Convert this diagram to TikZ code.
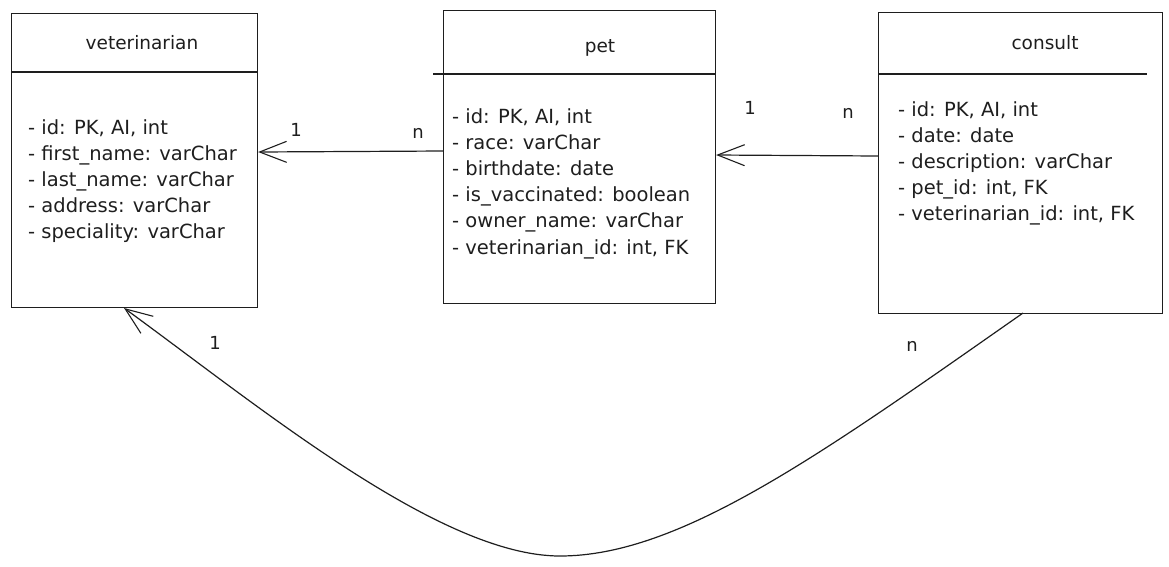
\documentclass[tikz,border=0pt]{standalone}
\usepackage{fontspec}
\setmainfont{DejaVu Sans}
\usetikzlibrary{arrows.meta}
\definecolor{ink}{HTML}{1E1E1E}
\tikzset{
  box/.style={draw=ink, line width=1.1pt, inner sep=0pt, anchor=north west},
  hdr/.style={draw=ink, line width=1.1pt},
  title/.style={font=\fontsize{18.5}{22}\selectfont, text=ink, anchor=center, inner sep=0pt},
  attr/.style={font=\fontsize{19.5}{22}\selectfont, text=ink, anchor=base west, inner sep=0pt},
  card/.style={font=\fontsize{18}{20}\selectfont, text=ink, anchor=center, inner sep=0pt},
  rel/.style={draw=ink, line width=1.2pt, -{Straight Barb[length=27pt,width=21pt,line width=1.1pt]}},
}
\begin{document}
\begin{tikzpicture}[x=1pt,y=-1pt]
\useasboundingbox (0,0) rectangle (1169,566);
% boxes
\node[box, minimum width=246pt, minimum height=294pt] (vet) at (11,13) {};
\node[box, minimum width=272pt, minimum height=293pt] (pet) at (443,10) {};
\node[box, minimum width=284pt, minimum height=301pt] (con) at (878,12) {};
% header separators
\draw[hdr] (11,72) -- (257,72);
\draw[hdr] (433,74) -- (715,74);
\draw[hdr] (878,74) -- (1147,74);
% titles
\node[title] (vett) at (142,43) {veterinarian};
\node[title] (pett) at (600,48) {pet};
\node[title] (cont) at (1045,43) {consult};
% attributes
\foreach \t [count=\i from 0] in {{- id: PK, AI, int},{- first\_name: varChar},{- last\_name: varChar},{- address: varChar},{- speciality: varChar}}
  \node[attr] (va\i) at (28,134+26.2*\i) {\t};
\foreach \t [count=\i from 0] in {{- id: PK, AI, int},{- race: varChar},{- birthdate: date},{- is\_vaccinated: boolean},{- owner\_name: varChar},{- veterinarian\_id: int, FK}}
  \node[attr] (pa\i) at (452,123+26.2*\i) {\t};
\foreach \t [count=\i from 0] in {{- id: PK, AI, int},{- date: date},{- description: varChar},{- pet\_id: int, FK},{- veterinarian\_id: int, FK}}
  \node[attr] (ca\i) at (898,116+26.2*\i) {\t};
% connectors
\coordinate (p1) at (pet.west |- 0,151);
\coordinate (v1) at (vet.east |- 0,152);
\draw[rel] (p1) -- (v1);
\coordinate (c1) at (con.west |- 0,156);
\coordinate (p2) at (pet.east |- 0,155);
\draw[rel] (c1) -- (p2);
\coordinate (c2) at (1023,313);
\coordinate (v2) at (124,308);
\coordinate (bot) at (560,556);
\draw[rel] (c2) .. controls (820,455) and (680,556) .. (bot)
               .. controls (440,556) and (260,407) .. (v2);
% cardinalities
\node[card] (l1) at (296,130) {1};
\node[card] (l2) at (418,133) {n};
\node[card] (l3) at (750,108) {1};
\node[card] (l4) at (848,113) {n};
\node[card] (l5) at (215,343) {1};
\node[card] (l6) at (912,346) {n};
\end{tikzpicture}
\end{document}
